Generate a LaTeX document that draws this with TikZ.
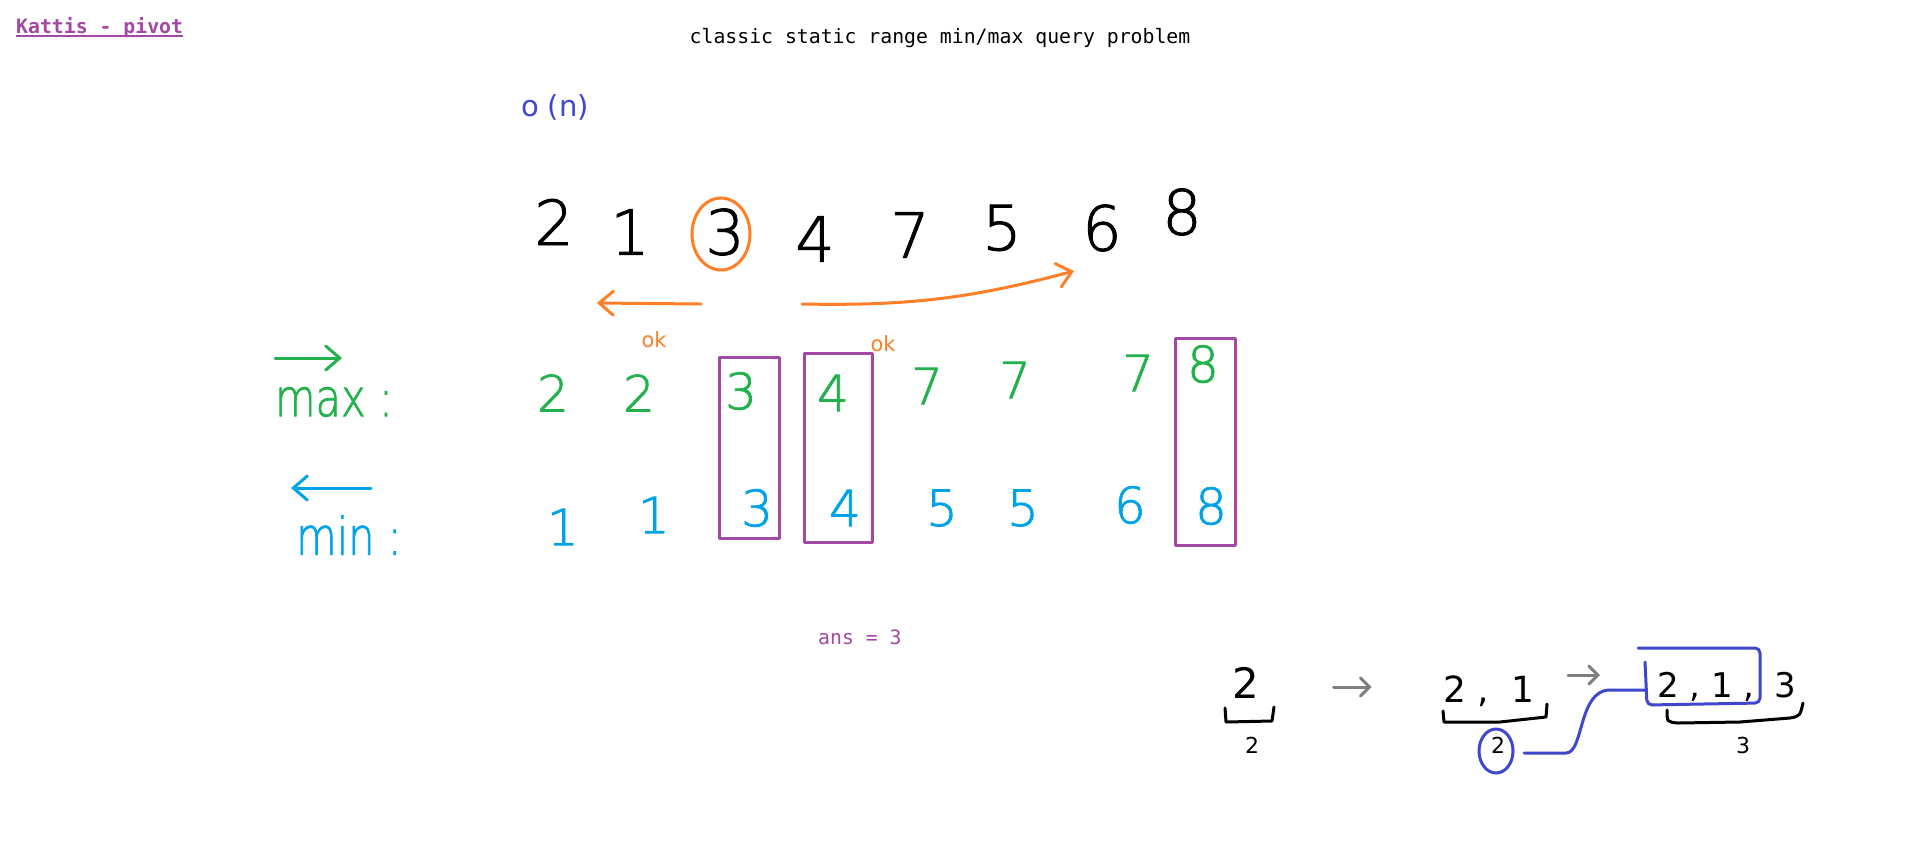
\documentclass[tikz,border=0pt]{standalone}
\usepackage{fontspec}
\usepackage{xcolor}
\usetikzlibrary{arrows.meta}

\setmonofont{DejaVu Sans Mono}
\IfFontExistsTF{DejaVuSans-ExtraLight.ttf}
  {\newfontfamily\hwfont{DejaVuSans-ExtraLight.ttf}[FakeBold=1.5]}
  {\newfontfamily\hwfont{DejaVu Sans}}
\newfontfamily\hwreg{DejaVu Sans}
\newcommand{\hwsize}[1]{\hwfont\fontsize{#1}{#1}\selectfont}
\newcommand{\regsize}[1]{\hwreg\fontsize{#1}{#1}\selectfont}
\newcommand{\ttsize}{\ttfamily\fontsize{19.8}{20}\selectfont}

\definecolor{kpurple}{HTML}{A349A4}
\definecolor{kgreen}{HTML}{22B14C}
\definecolor{kblue}{HTML}{00A2E8}
\definecolor{korange}{HTML}{FF7F27}
\definecolor{kindigo}{HTML}{3F48CC}
\definecolor{kgray}{HTML}{7F7F7F}

\begin{document}
\begin{tikzpicture}[x=1pt,y=-1pt,
        every node/.style={inner sep=0pt},
        typed/.style={font=\ttsize},
        topdig/.style={font=\hwsize{62}},
        rowdig/.style={font=\hwsize{50}},
        pen/.style={line width=3pt,line cap=round,line join=round},
        barb/.style={-{Straight Barb[length=14pt,width=24pt,line cap=round]}},
        smallbarb/.style={-{Straight Barb[length=9pt,width=18pt,line cap=round]}}]
        \fill[white] (0,0) rectangle (1906,863);

        % typed notes
        \node[font=\ttsize\bfseries,text=kpurple,anchor=base west] (kattis) at (16,33) {Kattis - pivot};
        \draw[kpurple,line width=1.6pt] ([yshift=-3pt]kattis.base west) -- ([yshift=-3pt]kattis.base east);
        \node[typed,anchor=base] (title) at (940,43) {classic static range min/max query problem};
        \node[typed,text=kpurple,anchor=base west] (ans) at (818,644) {ans = 3};
        \node[font=\regsize{29},text=kindigo] (cost) at (555,107) {o (n)};

        % the array
        \foreach \v/\x/\y [count=\i] in {2/554/222,1/630/232,3/725/232,4/815/239,7/910/235,5/1002/228,6/1102/228,8/1182/212}{
            \node[topdig] (a\i) at (\x,\y) {\v};
        }
        \draw[pen,korange] ([shift={(-4,2)}]a3) ellipse (29pt and 36pt);
        \coordinate (lt) at (701,304);
        \coordinate (lh) at (597,303);
        \coordinate (rt) at (802,304);
        \coordinate (rh) at (1074,271);
        \draw[pen,korange,barb] (lt) -- (lh);
        \draw[pen,korange,barb] (rt) to[bend right=8] (rh);
        \node[font=\regsize{21},text=korange] (ok1) at (654,340) {ok};
        \node[font=\regsize{21},text=korange] (ok2) at (883,344) {ok};

        % prefix max / suffix min
        \draw[pen,kgreen,barb] (275,358) -- (342,358);
        \node[font=\hwsize{52},text=kgreen] (maxl) at (334,402) {\scalebox{0.8}[1]{max :}};
        \draw[pen,kblue,barb] (371,488) -- (291,488);
        \node[font=\hwsize{52},text=kblue] (minl) at (349,535) {\scalebox{0.8}[1]{min :}};
        \foreach \v/\x/\y [count=\i] in {2/553/393,2/639/393,3/741/391,4/833/393,7/927/386,7/1015/380,7/1138/373,8/1203/364}{
            \node[rowdig,text=kgreen] (g\i) at (\x,\y) {\v};
        }
        \foreach \v/\x/\y [count=\i] in {1/563/527,1/654/515,3/757/508,4/845/508,5/942/508,5/1023/508,6/1130/505,8/1211/506}{
            \node[rowdig,text=kblue] (b\i) at (\x,\y) {\v};
        }
        \draw[pen,kpurple] (719,357) rectangle (779,538);
        \draw[pen,kpurple] (804,353) rectangle (872,542);
        \draw[pen,kpurple] (1175,338) rectangle (1235,545);

        % counting example
        \node[font=\regsize{42}] (s1) at (1246,683) {2};
        \draw[pen] (1225,708) -- (1226,722) -- (1272,721) -- (1274,707);
        \node[font=\regsize{22}] (n1) at (1252,745) {2};
        \draw[pen,kgray,smallbarb] ([shift={(74,4)}]s1.east) -- ++(38,0);

        \node[font=\regsize{36},anchor=base west] (s2) at (1443,702) {2 , \ 1};
        \draw[pen] (1443,711) -- (1444,722) -- (1500,722) -- (1546,717) -- (1547,704);
        \node[font=\regsize{22}] (n2) at (1498,745) {2};
        \draw[pen,kindigo] ([shift={(-2,6)}]n2) ellipse (17pt and 22pt);
        \draw[pen,kgray,smallbarb] ([shift={(33,-27)}]s2.base east) -- ++(32,0);

        \node[font=\regsize{34},anchor=base west] (s3) at (1657,697) {2 , 1 ,};
        \node[font=\regsize{34},anchor=base west] (s3b) at (1774,697) {3};
        \draw[pen] (1667,710) .. controls (1667,722) .. (1678,723) -- (1740,722) -- (1790,718) .. controls (1800,716) .. (1803,703);
        \node[font=\regsize{22}] (n3) at (1743,745) {3};
        \draw[pen,kindigo,rounded corners=5pt] (1638,648) -- (1760,648) -- (1760,703) -- (1647,705) -- (1645,662);
        \coordinate (boxin) at (1646,690);
        \draw[pen,kindigo] ([shift={(26,8)}]n2.center) -- (1566,753) .. controls (1584,753) and (1578,690) .. (1610,690) -- (boxin);
    \end{tikzpicture}
\end{document}
